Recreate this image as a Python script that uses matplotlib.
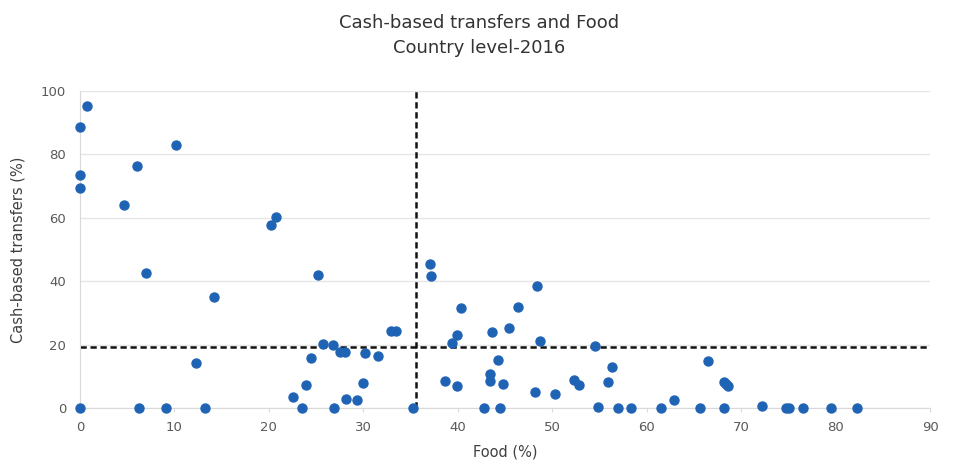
import matplotlib
matplotlib.use("Agg")
import matplotlib.pyplot as plt

# Food share (%) and cash-based transfer share (%) per country, 2016
food = [0.7, 0.0, 10.2, 6.0, 0.0, 0.0, 4.7, 20.7, 20.2, 7.0, 14.2, 25.2,
        37.0, 37.2, 32.9, 33.5, 25.7, 26.8, 27.5, 28.1, 30.2, 31.5, 24.5,
        12.3, 23.9, 30.0, 22.5, 28.2, 29.3,
        0.0, 6.2, 9.1, 13.2, 23.5, 26.9, 35.3,
        48.4, 40.3, 46.4, 43.6, 45.4, 39.9, 39.4, 48.7, 54.5, 44.2, 56.3,
        66.5, 43.4, 43.4, 44.8, 38.6, 39.9, 52.3, 52.8, 55.9, 48.2, 50.3,
        68.2, 68.4, 68.6, 62.9, 72.2, 54.8,
        42.8, 44.5, 57.0, 58.3, 61.5, 65.6, 68.2, 74.7, 75.1, 76.5, 79.5, 82.3]
cbt = [95.3, 88.5, 82.9, 76.3, 73.4, 69.4, 64.1, 60.3, 57.8, 42.7, 35.0, 41.9,
       45.5, 41.7, 24.4, 24.4, 20.1, 19.8, 17.6, 17.6, 17.5, 16.5, 15.7,
       14.1, 7.4, 8.0, 3.4, 2.9, 2.7,
       0, 0, 0, 0, 0, 0, 0,
       38.6, 31.6, 31.9, 24.0, 25.1, 23.1, 20.6, 21.2, 19.6, 15.1, 13.0,
       14.9, 10.7, 8.4, 7.7, 8.4, 7.0, 8.8, 7.2, 8.1, 5.0, 4.6,
       8.3, 7.6, 6.9, 2.4, 0.6, 0.4,
       0, 0, 0, 0, 0, 0, 0, 0, 0, 0, 0, 0]

# mean lines
food_mean = 35.6
cbt_mean = 19.3

fig = plt.figure(figsize=(9.58, 4.68), dpi=100)
ax = fig.add_axes([0.0835, 0.128, 0.8875, 0.678])

ax.set_xlim(0, 90)
ax.set_ylim(0, 100)
ax.set_xticks(range(0, 91, 10))
ax.set_yticks(range(0, 101, 20))
ax.grid(axis="y", color="#e6e6e6", linewidth=1)
ax.set_axisbelow(True)

ax.axvline(food_mean, color="#111111", linestyle=(0, (2.5, 1.5)), linewidth=1.8, zorder=2)
ax.axhline(cbt_mean, color="#111111", linestyle=(0, (2.5, 1.5)), linewidth=1.8, zorder=2)

ax.scatter(food, cbt, s=42, color="#1f64b4", zorder=3, clip_on=False)

for s in ["top", "right"]:
    ax.spines[s].set_visible(False)
for s in ["left", "bottom"]:
    ax.spines[s].set_color("#d9d9d9")
ax.tick_params(axis="y", colors="#595959", labelsize=9.5, length=0, pad=10)
ax.tick_params(axis="x", colors="#595959", labelsize=9.5, length=3, pad=6)
ax.tick_params(axis="x", color="#d9d9d9")

ax.set_xlabel("Food (%)", fontsize=10.5, color="#404040", labelpad=8)
ax.set_ylabel("Cash-based transfers (%)", fontsize=10.5, color="#404040", labelpad=11)

fig.text(0.5, 0.925, "Cash-based transfers and Food\nCountry level-2016",
         ha="center", va="center", fontsize=13, color="#333333", linespacing=1.5)

fig.savefig("out.png", dpi=100)
